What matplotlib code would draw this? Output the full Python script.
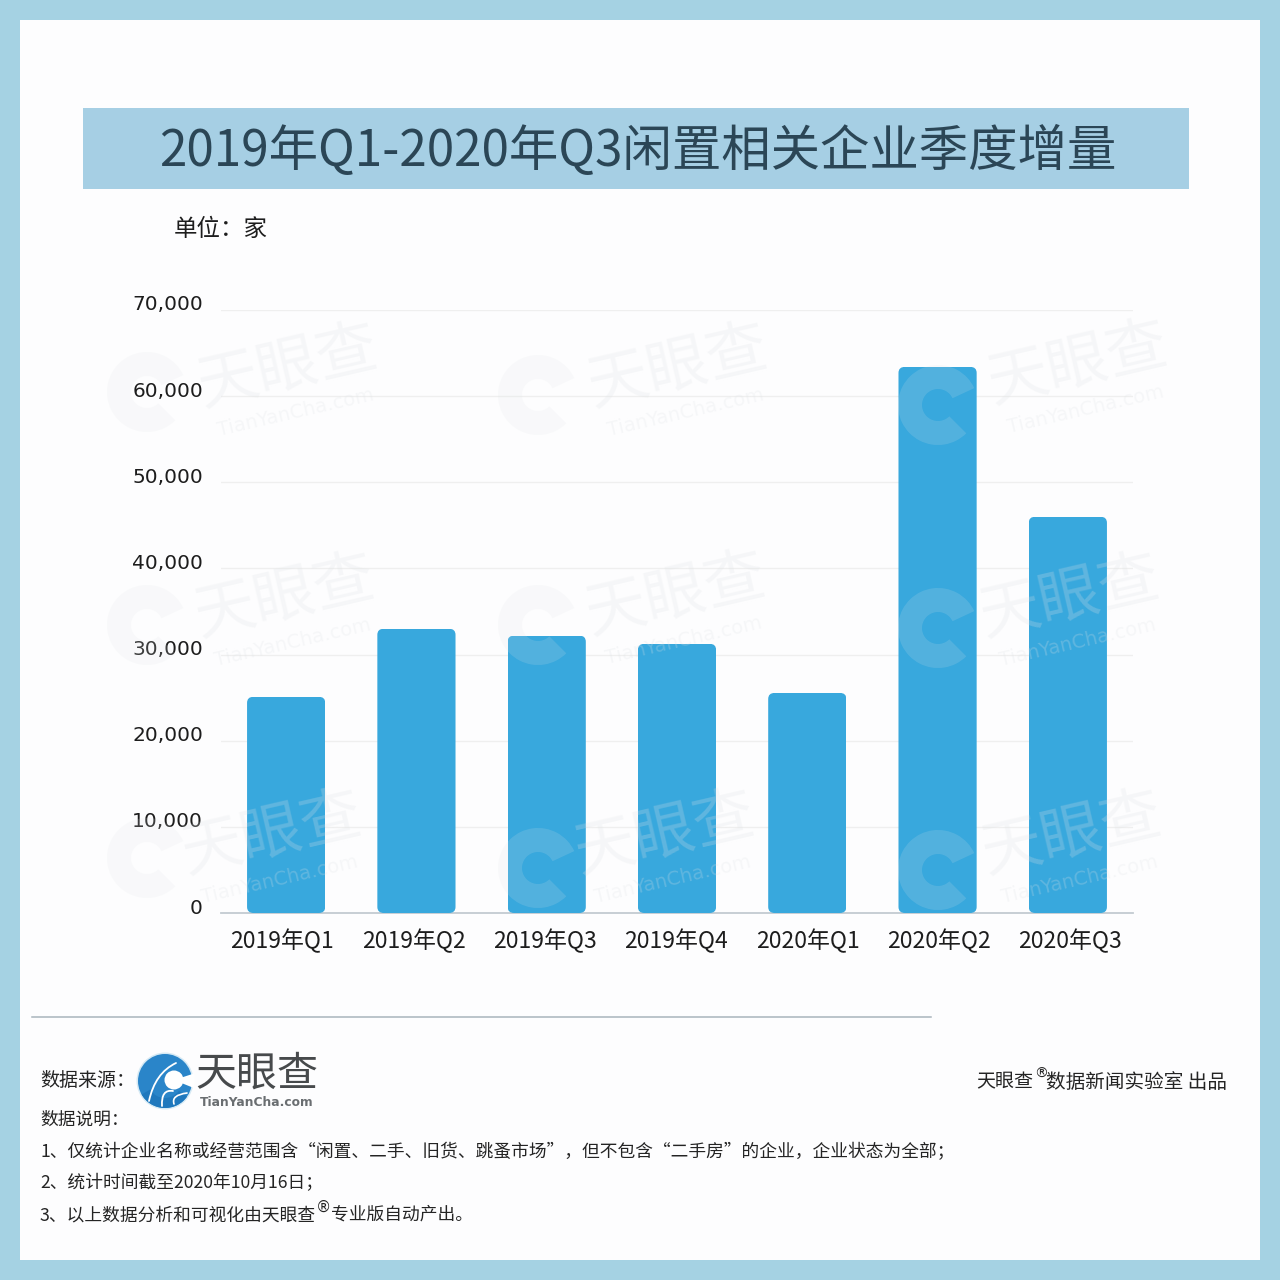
import matplotlib
matplotlib.use("Agg")
import matplotlib.pyplot as plt
from matplotlib.patches import Rectangle, FancyBboxPatch, Circle, Wedge, PathPatch
from matplotlib.path import Path
from matplotlib.ticker import FuncFormatter
from matplotlib.transforms import ScaledTranslation

plt.rcParams['font.family'] = ['Noto Sans CJK SC', 'DejaVu Sans']

categories = ['2019年Q1', '2019年Q2', '2019年Q3', '2019年Q4', '2020年Q1', '2020年Q2', '2020年Q3']
values = [25100, 33000, 32200, 31250, 25550, 63400, 46000]
y_ticks = [0, 10000, 20000, 30000, 40000, 50000, 60000, 70000]

title = '2019年Q1-2020年Q3闲置相关企业季度增量'
unit = '单位：家'
source_label = '数据来源：'
credit_a = '天眼查'
credit_b = '数据新闻实验室 出品'
notes_head = '数据说明：'
note_1 = '1、仅统计企业名称或经营范围含“闲置、二手、旧货、跳蚤市场”，但不包含“二手房”的企业，企业状态为全部；'
note_2 = '2、统计时间截至2020年10月16日；'
note_3a = '3、以上数据分析和可视化由天眼查'
note_3b = '专业版自动产出。'

W = 1280
fig = plt.figure(figsize=(12.8, 12.8), dpi=100, facecolor='#a5d2e3')

# page layer in pixel coordinates
bg = fig.add_axes([0, 0, 1, 1], zorder=0)
bg.set_xlim(0, W); bg.set_ylim(W, 0); bg.axis('off')
bg.add_patch(Rectangle((20, 20), 1240, 1240, fc='#fdfdfe', ec='none'))
bg.add_patch(Rectangle((83, 108), 1106, 81, fc='#a6cfe4', ec='none'))
bg.text(638, 152, title, ha='center', va='center', fontsize=35.6, color='#2b4656')
bg.text(174, 229, unit, ha='left', va='center', fontsize=16.9, color='#1d1d1d')
bg.plot([32, 931], [1017, 1017], color='#a9b4bc', lw=1.1)

TXT = '#242424'
FS = 12.75
FL = 13.7
bg.text(40, 1080, source_label, ha='left', va='center', fontsize=FL, color=TXT)
bg.text(40, 1120, notes_head, ha='left', va='center', fontsize=FS, color=TXT)
bg.text(40, 1152, note_1, ha='left', va='center', fontsize=FS, color=TXT)
bg.text(40, 1183, note_2, ha='left', va='center', fontsize=FS, color=TXT)
bg.text(40, 1215, note_3a, ha='left', va='center', fontsize=FS, color=TXT)
bg.text(316, 1207, '®', ha='left', va='center', fontsize=11, color=TXT, family='DejaVu Sans')
bg.text(331, 1215, note_3b, ha='left', va='center', fontsize=FS, color=TXT)
bg.text(976, 1082, credit_a, ha='left', va='center', fontsize=FL, color=TXT)
bg.text(1034, 1074, '®', ha='left', va='center', fontsize=10, color=TXT, family='DejaVu Sans')
bg.text(1227, 1082, credit_b, ha='right', va='center', fontsize=14.1, color=TXT)


def swoosh(ax, pts, **kw):
    codes = [Path.MOVETO] + [Path.CURVE3] * (len(pts) - 1)
    ax.add_patch(PathPatch(Path(pts, codes), fc='none', capstyle='round', **kw))


# brand mark
cx, cy, r = 165, 1081, 27
bg.add_patch(Circle((cx, cy), r + 1.5, fc='#d5e9f4', ec='none'))
bg.add_patch(Circle((cx, cy), r, fc='#2a85c9', ec='none'))
bg.add_patch(Wedge((cx, cy), r, 35, 150, width=10, fc='#1f78bd', ec='none'))
bg.add_patch(Circle((cx + 9, cy - 1), 9.5, fc='white', ec='none'))
bg.add_patch(Wedge((cx + 9, cy - 1), 21, -18, 22, fc='white', ec='none'))
swoosh(bg, [(cx - 16, cy + 20), (cx - 10, cy - 8), (cx + 11, cy - 18)], ec='white', lw=1.3)
swoosh(bg, [(cx - 3, cy + 25), (cx - 4, cy + 8), (cx + 8, cy + 10)], ec='white', lw=1.3)
swoosh(bg, [(cx + 9, cy + 23), (cx + 6, cy + 14), (cx + 22, cy + 12)], ec='white', lw=1.2)
bg.text(257, 1074, '天眼查', ha='center', va='center', fontsize=29.5, fontweight='medium', color='#474a4c')
bg.text(257, 1103, 'TianYanCha.com', ha='center', va='center', fontsize=8.8, fontweight='bold',
        color='#6a6e71', family='DejaVu Sans')

# chart
ax = fig.add_axes([221 / W, 1 - 913 / W, 912 / W, 603 / W], zorder=1)
ax.patch.set_alpha(0)
x = list(range(len(categories)))
bars = ax.bar(x, values, width=0.6, color='#38a8dd', zorder=3)
ax.set_xlim(-0.5, len(categories) - 0.5)
ax.set_ylim(0, 70000)
for b in bars:
    clip = FancyBboxPatch((b.get_x(), 0), b.get_width(), b.get_height(),
                          boxstyle='round,pad=0,rounding_size=0.05', mutation_aspect=14000,
                          transform=ax.transData)
    b.set_clip_path(clip)
ax.set_yticks(y_ticks)
ax.yaxis.set_major_formatter(FuncFormatter(lambda v, _: f'{int(v):,}'))
ax.set_xticks([-0.03 + i * 1.0083 for i in x], categories)
ax.tick_params(axis='x', length=0, pad=11, labelsize=16.5, labelcolor='#1d1d1d')
ax.tick_params(axis='y', length=0, pad=13, labelsize=14.5, labelcolor='#1d1d1d')
for lab in ax.get_yticklabels():
    lab.set_family('DejaVu Sans')
shift = ScaledTranslation(0, 7 / 100, fig.dpi_scale_trans)
for t in ax.yaxis.get_major_ticks():
    t.label1.set_transform(t.label1.get_transform() + shift)
ax.grid(axis='y', color='#efefef', lw=1.0, zorder=0)
ax.set_axisbelow(True)
for s in ['top', 'right', 'left']:
    ax.spines[s].set_visible(False)
ax.spines['bottom'].set_color('#c3cbd1')
ax.spines['bottom'].set_linewidth(1.3)

# watermark layer
wm = fig.add_axes([0, 0, 1, 1], zorder=2)
wm.set_xlim(0, W); wm.set_ylim(W, 0); wm.axis('off'); wm.patch.set_alpha(0)
WM = '#dfe3e6'
A = 0.16
for (lx, ly, tx, ty) in [(147, 392, 288, 368), (538, 395, 678, 368), (938, 405, 1078, 365),
                         (147, 625, 285, 598), (538, 625, 676, 596), (938, 628, 1070, 598),
                         (147, 858, 272, 835), (538, 868, 665, 835), (938, 870, 1072, 835)]:
    wm.add_patch(Wedge((lx, ly), 40, 45, 335, width=24, fc=WM, ec='none', alpha=A))
    wm.text(tx, ty, '天眼查', ha='center', va='center', fontsize=44, rotation=13, color=WM, alpha=A + 0.08)
    wm.text(tx + 8, ty + 45, 'TianYanCha.com', ha='center', va='center', fontsize=14, rotation=13,
            color=WM, alpha=A + 0.08, family='DejaVu Sans')

fig.savefig('out.png', dpi=100, facecolor=fig.get_facecolor())
